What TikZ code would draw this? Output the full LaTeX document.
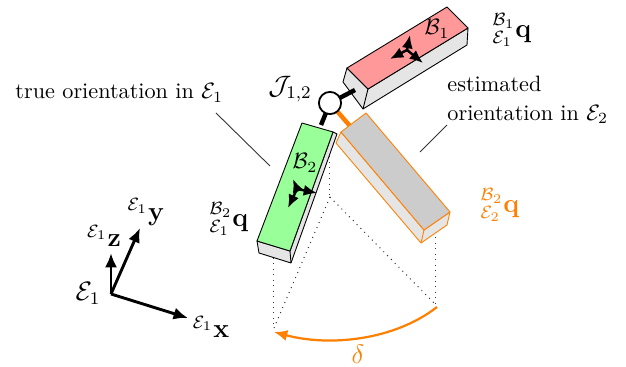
\documentclass[tikz,border=0pt]{standalone}
\usetikzlibrary{arrows.meta}
\definecolor{orng}{RGB}{255,128,0}
\definecolor{redf}{RGB}{255,153,153}
\definecolor{grnf}{RGB}{153,255,153}
\newcommand{\E}{\mathcal{E}}
\newcommand{\B}{\mathcal{B}}
\tikzset{
 blk/.style={draw=black,line width=0.4pt,line join=round},
 org/.style={draw=orng,line width=0.4pt,line join=round},
 tip/.style={-{Latex[length=6.5pt,width=5.5pt]},line width=1.3pt,black},
 smalltip/.style={-{Latex[length=6pt,width=5pt]},line width=1.1pt,black},
 dots/.style={dotted,line width=0.45pt,black!80},
 lbl/.style={inner sep=0pt,align=left},
 big/.style={lbl,font=\large},
 lead/.style={draw=black!80,line width=0.4pt}
}
\begin{document}
\begin{tikzpicture}[x=0.45pt,y=-0.45pt]
\useasboundingbox (0,0) rectangle (626,367);
% coordinates
\coordinate (joint) at (330,103);
\coordinate (dv) at (330,197);
\coordinate (dl) at (274,328);
\coordinate (dr) at (436,305);
\coordinate (arcA) at (437,307);
\coordinate (arcB) at (274,332);
% dotted
\draw[dots] (330,140) -- (dv);
\draw[dots] (dv) -- (dl);
\draw[dots] (dv) -- (dr);
\draw[dots] (436,232) -- (dr);
\draw[dots] (274,258) -- (dl);
% red box
\draw[blk,fill=black!10] (347,68) -- (368,89) -- (468,28) -- (467,45) -- (363,109) -- (343,82) -- cycle;
\draw[blk] (368,89) -- (363,109);
\draw[blk,fill=redf] (447,7) -- (468,28) -- (368,89) -- (347,68) -- cycle;
% links
\draw[line width=2pt,black] (joint) -- (355,90);
\draw[line width=2pt,orng] (joint) -- (350,126);
\draw[line width=2pt,black] (joint) -- (321,125);
% grey box
\draw[org,fill=black!10] (341,132) -- (424,230) -- (450,212) -- (447,225) -- (421,243) -- (336,143) -- cycle;
\draw[org] (424,230) -- (421,243);
\draw[org,fill=black!20] (366,113) -- (450,212) -- (424,230) -- (341,132) -- cycle;
% green box
\draw[blk,fill=black!10] (333,132) -- (337,134) -- (291,263) -- (259,253) -- (257,241) -- (290,251) -- cycle;
\draw[blk] (290,251) -- (291,263);
\draw[blk,fill=grnf] (302,123) -- (333,132) -- (290,251) -- (257,241) -- cycle;
% joint
\node[circle,draw=black,line width=0.8pt,fill=white,minimum size=10pt,inner sep=0pt] (J) at (joint) {};
% body frames
\coordinate (r0) at (407,50);
\coordinate (g0) at (297,189);
\draw[smalltip] (r0) -- (410,35);
\draw[smalltip] (r0) -- (390,59);
\draw[smalltip] (r0) -- (423,63);
\draw[smalltip] (g0) -- (288,208);
\draw[smalltip] (g0) -- (317,193);
\draw[smalltip] (g0) -- (293,179);
% world frame
\coordinate (O) at (111,294);
\draw[tip] (O) -- (111,253);
\draw[tip] (O) -- (140,228);
\draw[tip] (O) -- (188,318);
% arc
\draw[orng,line width=1pt,-{Latex[length=6pt,width=5pt]}] (arcA) .. controls (395,340) and (330,347) .. (arcB);
% leaders
\coordinate (l1a) at (216,113);
\coordinate (l1b) at (270,166);
\coordinate (l2a) at (447,125);
\coordinate (l2b) at (420,152);
\draw[lead] (l1a) -- (l1b);
\draw[lead] (l2a) -- (l2b);
% labels
\node[lbl,anchor=west] (tt) at (15,93) {true orientation in $\E_1$};
\node[lbl,anchor=west] (te) at (447,100) {estimated\\[1pt]orientation in $\E_2$};
\node[big] (tj) at (290,89) {$\mathcal{J}_{1,2}$};
\node[lbl] (tb1) at (437,29) {$\B_1$};
\node[lbl] (tb2) at (305,163) {$\B_2$};
\node[big] (tq1) at (512,30) {$^{\B_1}_{\E_1}\mathbf{q}$};
\node[big] (tq2) at (229,219) {$^{\B_2}_{\E_1}\mathbf{q}$};
\node[big,text=orng] (tq3) at (500,205) {$^{\B_2}_{\E_2}\mathbf{q}$};
\node[big] (te1) at (88,293) {$\E_1$};
\node[big] (tx) at (211,327) {$^{\E_1}\mathbf{x}$};
\node[big] (ty) at (146,212) {$^{\E_1}\mathbf{y}$};
\node[big] (tz) at (104,236) {$^{\E_1}\mathbf{z}$};
\node[big,text=orng] (td) at (358,354) {$\delta$};
\end{tikzpicture}
\end{document}
